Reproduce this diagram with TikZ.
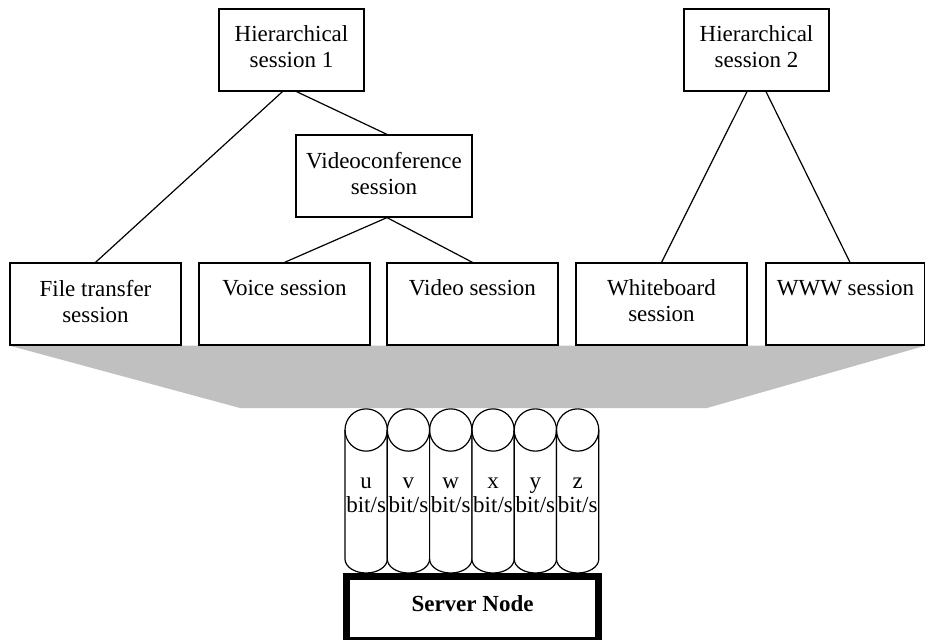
\documentclass[tikz,border=0pt]{standalone}
\usepackage{fontspec}
\setmainfont{Liberation Serif}
\usetikzlibrary{calc,backgrounds}

\begin{document}
\begin{tikzpicture}[x=1pt,y=-1pt,line width=1.2pt]
  \tikzstyle{sess}=[draw, inner sep=0, minimum height=82pt, align=center, text depth=6pt, font=\fontsize{23}{26}\selectfont];
  \tikzstyle{tuyau}=[draw, fill=white];
  \definecolor{gristrap}{RGB}{192,192,192}

  \useasboundingbox (0,0) rectangle (925,639);

  % les sessions
  \node[sess, minimum width=145pt] (H1) at (291.5,50) {Hierarchical\\session 1};
  \node[sess, minimum width=145pt] (H2) at (756.5,50) {Hierarchical\\session 2};
  \node[sess, minimum width=176pt] (VC) at (384,176) {Videoconference\\session};
  \node[sess, minimum width=171pt] (FT) at (95.5,304) {File transfer\\session};
  \node[sess, minimum width=171pt] (VO) at (284.5,304) {Voice session\\\mbox{}};
  \node[sess, minimum width=171pt] (VI) at (472.5,304) {Video session\\\mbox{}};
  \node[sess, minimum width=171pt] (WB) at (661.5,304) {Whiteboard\\session};
  \node[sess, minimum width=159pt] (WW) at (845.5,304) {WWW session\\\mbox{}};

  \draw ($(H1.south)+(-9,0)$) -- (FT.north);
  \draw ($(H1.south)+(5,0)$) -- ($(VC.north)+(3,0)$);
  \draw ($(VC.south)+(3,0)$) -- (VO.north);
  \draw ($(VC.south)+(3,0)$) -- (VI.north);
  \draw ($(H2.south)+(-9.5,0)$) -- (WB.north);
  \draw ($(H2.south)+(9.5,0)$) -- ($(WW.north)+(4.5,0)$);

  % le trapeze
  \begin{scope}[on background layer]
    \coordinate (BG) at (240,408);
    \coordinate (BD) at (707,408);
    \fill[gristrap] (FT.south west) -- (WW.south east) -- (BD) -- (BG) -- cycle;
  \end{scope}

  % les canaux
  \foreach \c [count=\i from 0] in {u,v,w,x,y,z} {
    \pgfmathsetmacro{\xg}{345+42.3*\i}
    \draw[tuyau] (\xg,430) -- (\xg,559) arc[start angle=180, end angle=360, x radius=21.15pt, y radius=14pt] -- (\xg+42.3,430);
    \draw (\xg+21.15,430) circle[radius=21.15pt];
    \node[anchor=base, inner sep=0, font=\fontsize{23}{24}\selectfont] (t\i) at (\xg+21.15,488) {\c};
    \node[anchor=base, inner sep=0, font=\fontsize{23}{24}\selectfont] (b\i) at (\xg+21.15,512) {bit/s};
  }

  % le serveur
  \draw[line width=7pt] (346.5,576.5) rectangle (598.5,640.5);
  \node[anchor=base, inner sep=0, font=\fontsize{23}{26}\selectfont\bfseries] (SN) at (472.5,611) {Server Node};
\end{tikzpicture}
\end{document}
